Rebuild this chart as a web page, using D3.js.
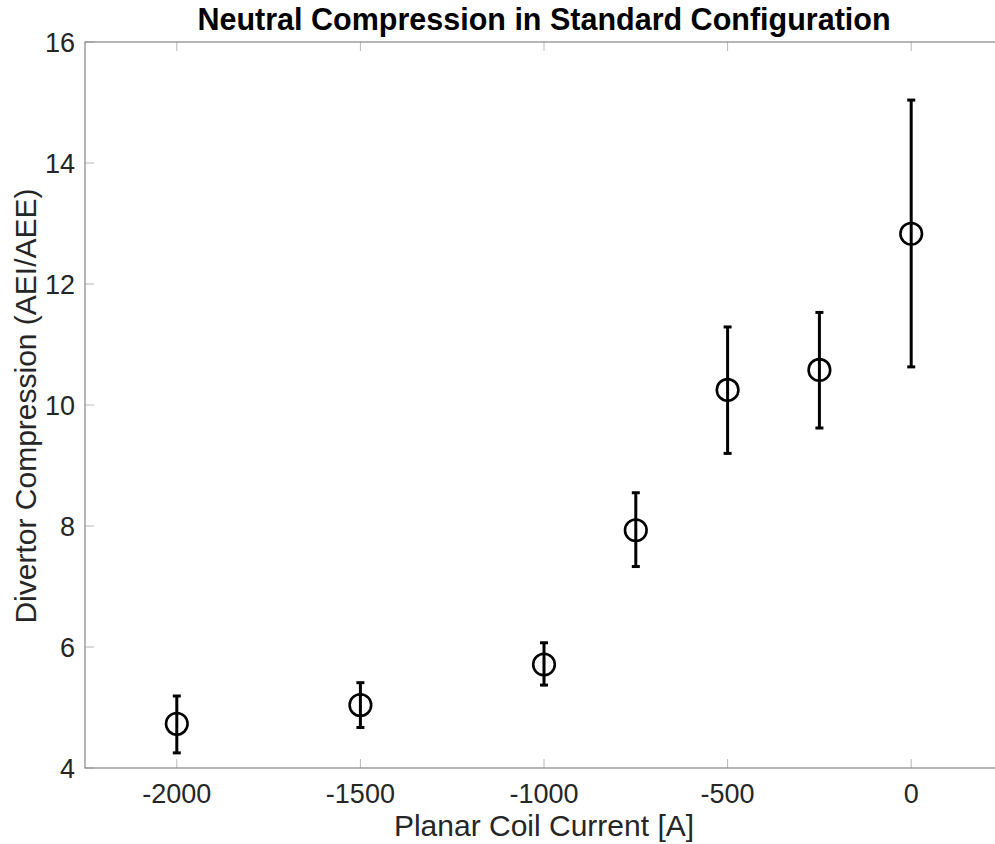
<!DOCTYPE html>
<html>
<head>
<meta charset="utf-8">
<script src="https://cdn.jsdelivr.net/npm/d3@7"></script>
<style>
  body { margin: 0; background: #fff; }
  svg { display: block; font-family: "Liberation Sans", Arial, Helvetica, sans-serif; }
</style>
</head>
<body>
<div id="chart"></div>
<script>
// data
var currents = [-2000, -1500, -1000, -750, -500, -250, 0];
var compression = [4.73, 5.04, 5.71, 7.93, 10.25, 10.58, 12.83];
var errLow = [4.25, 4.67, 5.37, 7.33, 9.20, 9.62, 10.63];
var errHigh = [5.19, 5.41, 6.07, 8.55, 11.29, 11.53, 15.04];
var xTicks = [-2000, -1500, -1000, -500, 0];
var yTicks = [4, 6, 8, 10, 12, 14, 16];

var width = 995, height = 844,
    margin = {top: 42, right: -8, bottom: 76, left: 85};

var svg = d3.select("#chart").append("svg")
    .attr("width", width)
    .attr("height", height);

var x = d3.scaleLinear()
    .domain([-2250, 250])
    .range([margin.left, width - margin.right]);

var y = d3.scaleLinear()
    .domain([4, 16])
    .range([height - margin.bottom, margin.top]);

var axisCol = "#858585", tickCol = "#b8b8b8", textCol = "#262626";

// ticks (inside, mirrored on top)
var g = svg.append("g");
g.selectAll(".xt").data(xTicks).enter().append("line")
  .attr("x1", d => x(d)).attr("x2", d => x(d))
  .attr("y1", y(4)).attr("y2", y(4) - 9)
  .attr("stroke", tickCol).attr("stroke-width", 1);
g.selectAll(".xt2").data(xTicks).enter().append("line")
  .attr("x1", d => x(d)).attr("x2", d => x(d))
  .attr("y1", y(16)).attr("y2", y(16) + 9)
  .attr("stroke", tickCol).attr("stroke-width", 1);
g.selectAll(".yt").data(yTicks).enter().append("line")
  .attr("x1", x(-2250)).attr("x2", x(-2250) + 9)
  .attr("y1", d => y(d)).attr("y2", d => y(d))
  .attr("stroke", tickCol).attr("stroke-width", 1);

// box
svg.append("rect")
  .attr("x", x(-2250)).attr("y", y(16))
  .attr("width", x(250) - x(-2250)).attr("height", y(4) - y(16))
  .attr("fill", "none").attr("stroke", axisCol).attr("stroke-width", 1.2);

// tick labels
svg.selectAll(".xl").data(xTicks).enter().append("text")
  .attr("x", d => x(d)).attr("y", 803)
  .attr("text-anchor", "middle")
  .attr("font-size", 27).attr("fill", textCol)
  .text(d => d);
svg.selectAll(".yl").data(yTicks).enter().append("text")
  .attr("x", x(-2250) - 10).attr("y", d => y(d) + 10)
  .attr("text-anchor", "end")
  .attr("font-size", 27).attr("fill", textCol)
  .text(d => d);

// axis labels + title
svg.append("text")
  .attr("x", (x(-2250) + x(250)) / 2).attr("y", 836)
  .attr("text-anchor", "middle").attr("font-size", 30).attr("fill", textCol)
  .text("Planar Coil Current [A]");
svg.append("text")
  .attr("transform", "translate(36,406) rotate(-90)")
  .attr("text-anchor", "middle").attr("font-size", 30).attr("fill", textCol)
  .text("Divertor Compression (AEI/AEE)");
svg.append("text")
  .attr("x", (x(-2250) + x(250)) / 2).attr("y", 30)
  .attr("text-anchor", "middle").attr("font-size", 30.5)
  .attr("font-weight", "bold").attr("fill", "#000")
  .text("Neutral Compression in Standard Configuration");

// error bars + markers
var pts = currents.map((c, i) => ({c: c, v: compression[i], lo: errLow[i], hi: errHigh[i]}));
var eb = svg.append("g").attr("stroke", "#000").attr("stroke-width", 3);
eb.selectAll(".bar").data(pts).enter().append("line")
  .attr("x1", d => x(d.c)).attr("x2", d => x(d.c))
  .attr("y1", d => y(d.lo)).attr("y2", d => y(d.hi));
eb.selectAll(".capT").data(pts).enter().append("line")
  .attr("x1", d => x(d.c) - 4).attr("x2", d => x(d.c) + 4)
  .attr("y1", d => y(d.hi)).attr("y2", d => y(d.hi));
eb.selectAll(".capB").data(pts).enter().append("line")
  .attr("x1", d => x(d.c) - 4).attr("x2", d => x(d.c) + 4)
  .attr("y1", d => y(d.lo)).attr("y2", d => y(d.lo));
svg.selectAll(".pt").data(pts).enter().append("circle")
  .attr("cx", d => x(d.c)).attr("cy", d => y(d.v))
  .attr("r", 10.8).attr("fill", "none")
  .attr("stroke", "#000").attr("stroke-width", 2.6);
</script>
</body>
</html>
